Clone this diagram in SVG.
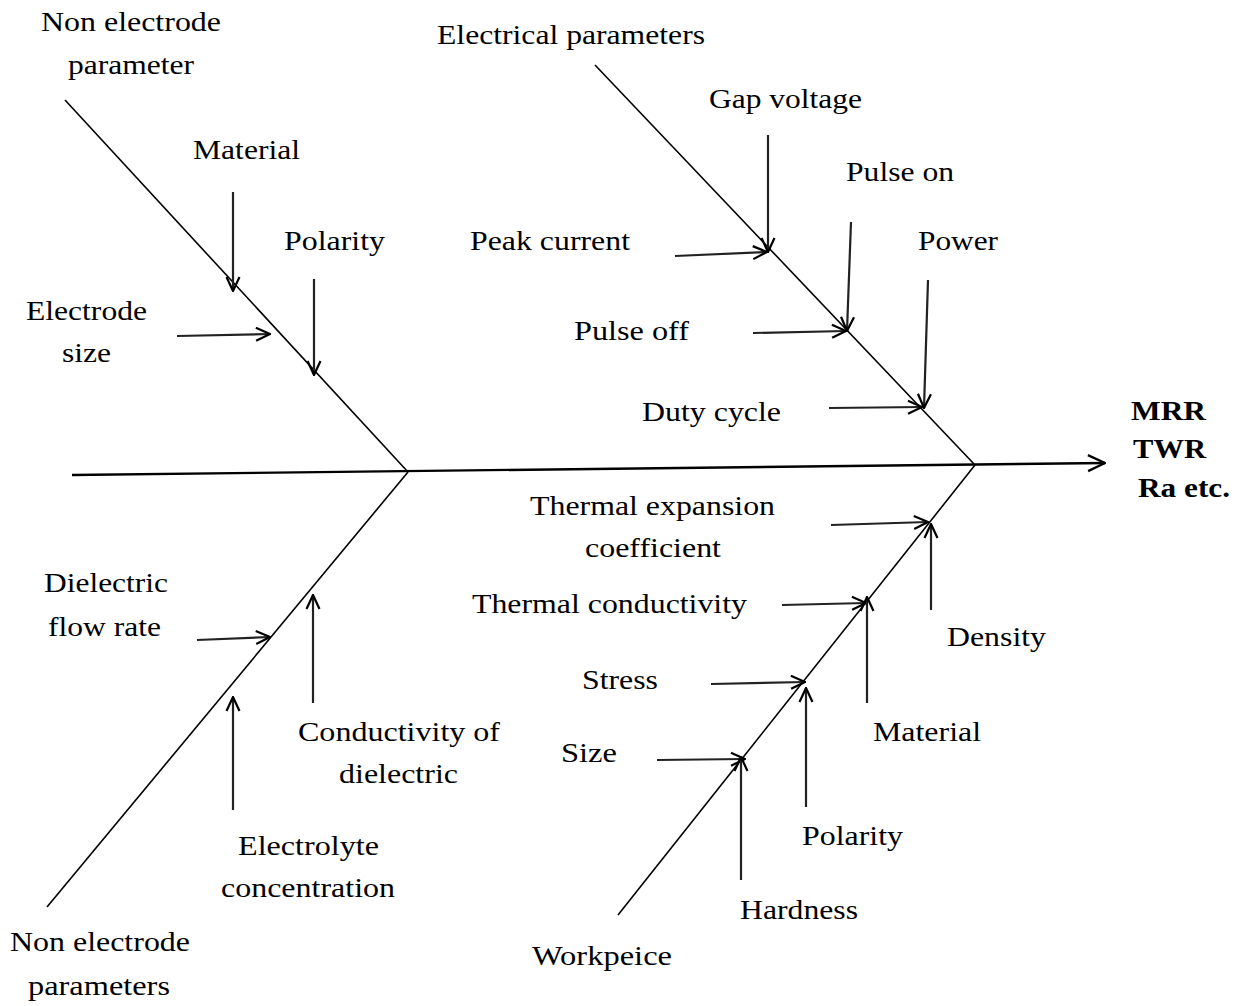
<svg xmlns="http://www.w3.org/2000/svg" width="1251" height="1006" viewBox="0 0 1251 1006">
<style>
text{font-family:"Liberation Serif","Times New Roman",serif;font-size:28px;fill:#000}
.b{font-weight:bold}
.bone{stroke:#000;stroke-width:1.6;fill:none}
.arr{stroke:#222;stroke-width:2.2;fill:none;marker-end:url(#ah)}
</style>
<defs>
<marker id="ah" viewBox="0 0 16 16" refX="15" refY="8" markerWidth="16" markerHeight="16" markerUnits="userSpaceOnUse" orient="auto">
<path d="M1,1.5 L15,8 L1,14.5" fill="none" stroke="#000" stroke-width="2.2"/>
</marker>
<marker id="ah2" viewBox="0 0 20 20" refX="19" refY="10" markerWidth="20" markerHeight="20" markerUnits="userSpaceOnUse" orient="auto">
<path d="M2,2 L19,10 L2,18" fill="none" stroke="#000" stroke-width="2.4"/>
</marker>
</defs>
<rect width="1251" height="1006" fill="#fff"/>
<g id="connectors">
<path class="bone" d="M72,475 L1105,463" style="stroke-width:2.4;marker-end:url(#ah2)"/>
<path class="bone" d="M65,100 L408,472"/>
<path class="bone" d="M595,65 L975,465"/>
<path class="bone" d="M408,472 L47,907"/>
<path class="bone" d="M975,465 L618,915"/>
<path class="arr" d="M233,192 L233,291"/>
<path class="arr" d="M314,279 L314,375"/>
<path class="arr" d="M177,336 L270,334"/>
<path class="arr" d="M768,135 L768,252"/>
<path class="arr" d="M675,256 L767,252"/>
<path class="arr" d="M851,222 L847,331"/>
<path class="arr" d="M753,333 L846,331"/>
<path class="arr" d="M928,280 L924,408"/>
<path class="arr" d="M829,408 L922,407"/>
<path class="arr" d="M197,640 L270,637"/>
<path class="arr" d="M313,703 L313,595"/>
<path class="arr" d="M233,810 L233,697"/>
<path class="arr" d="M831,525 L928,522"/>
<path class="arr" d="M931,610 L931,524"/>
<path class="arr" d="M782,605 L866,603"/>
<path class="arr" d="M867,703 L867,597"/>
<path class="arr" d="M711,684 L805,682"/>
<path class="arr" d="M806,807 L806,688"/>
<path class="arr" d="M657,760 L745,759"/>
<path class="arr" d="M741,880 L741,757"/>
</g>
<g id="node-non-electrode-top"><text x="41" y="31" textLength="180" lengthAdjust="spacingAndGlyphs">Non electrode</text><text x="68" y="74" textLength="126" lengthAdjust="spacingAndGlyphs">parameter</text></g>
<g id="node-electrical"><text x="437" y="44" textLength="268" lengthAdjust="spacingAndGlyphs">Electrical parameters</text></g>
<g id="node-gap-voltage"><text x="709" y="108" textLength="153" lengthAdjust="spacingAndGlyphs">Gap voltage</text></g>
<g id="node-material-top"><text x="193" y="159" textLength="107" lengthAdjust="spacingAndGlyphs">Material</text></g>
<g id="node-pulse-on"><text x="846" y="181" textLength="108" lengthAdjust="spacingAndGlyphs">Pulse on</text></g>
<g id="node-polarity-top"><text x="284" y="250" textLength="101" lengthAdjust="spacingAndGlyphs">Polarity</text></g>
<g id="node-peak-current"><text x="470" y="250" textLength="160" lengthAdjust="spacingAndGlyphs">Peak current</text></g>
<g id="node-power"><text x="918" y="250" textLength="80" lengthAdjust="spacingAndGlyphs">Power</text></g>
<g id="node-electrode-size"><text x="26" y="320" textLength="121" lengthAdjust="spacingAndGlyphs">Electrode</text><text x="62" y="362" textLength="49" lengthAdjust="spacingAndGlyphs">size</text></g>
<g id="node-pulse-off"><text x="574" y="340" textLength="115" lengthAdjust="spacingAndGlyphs">Pulse off</text></g>
<g id="node-duty-cycle"><text x="642" y="421" textLength="139" lengthAdjust="spacingAndGlyphs">Duty cycle</text></g>
<g id="node-output"><text class="b" x="1131" y="420" textLength="75" lengthAdjust="spacingAndGlyphs">MRR</text><text class="b" x="1133" y="458" textLength="73" lengthAdjust="spacingAndGlyphs">TWR</text><text class="b" x="1138" y="497" textLength="92" lengthAdjust="spacingAndGlyphs">Ra etc.</text></g>
<g id="node-thermal-expansion"><text x="530" y="515" textLength="245" lengthAdjust="spacingAndGlyphs">Thermal expansion</text><text x="585" y="557" textLength="136" lengthAdjust="spacingAndGlyphs">coefficient</text></g>
<g id="node-dielectric-flow"><text x="44" y="592" textLength="124" lengthAdjust="spacingAndGlyphs">Dielectric</text><text x="48" y="636" textLength="113" lengthAdjust="spacingAndGlyphs">flow rate</text></g>
<g id="node-thermal-conductivity"><text x="472" y="613" textLength="275" lengthAdjust="spacingAndGlyphs">Thermal conductivity</text></g>
<g id="node-density"><text x="947" y="646" textLength="99" lengthAdjust="spacingAndGlyphs">Density</text></g>
<g id="node-stress"><text x="582" y="689" textLength="76" lengthAdjust="spacingAndGlyphs">Stress</text></g>
<g id="node-conductivity-dielectric"><text x="298" y="741" textLength="202" lengthAdjust="spacingAndGlyphs">Conductivity of</text><text x="339" y="783" textLength="119" lengthAdjust="spacingAndGlyphs">dielectric</text></g>
<g id="node-material-bottom"><text x="873" y="741" textLength="108" lengthAdjust="spacingAndGlyphs">Material</text></g>
<g id="node-size"><text x="561" y="762" textLength="56" lengthAdjust="spacingAndGlyphs">Size</text></g>
<g id="node-polarity-bottom"><text x="802" y="845" textLength="101" lengthAdjust="spacingAndGlyphs">Polarity</text></g>
<g id="node-electrolyte"><text x="238" y="855" textLength="141" lengthAdjust="spacingAndGlyphs">Electrolyte</text><text x="221" y="897" textLength="174" lengthAdjust="spacingAndGlyphs">concentration</text></g>
<g id="node-hardness"><text x="740" y="919" textLength="118" lengthAdjust="spacingAndGlyphs">Hardness</text></g>
<g id="node-non-electrode-bottom"><text x="10" y="951" textLength="180" lengthAdjust="spacingAndGlyphs">Non electrode</text><text x="28" y="995" textLength="142" lengthAdjust="spacingAndGlyphs">parameters</text></g>
<g id="node-workpeice"><text x="532" y="965" textLength="140" lengthAdjust="spacingAndGlyphs">Workpeice</text></g>
</svg>
